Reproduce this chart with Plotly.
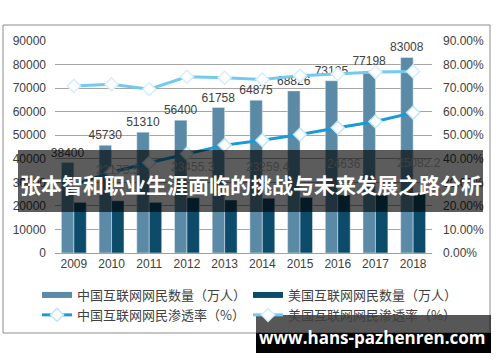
import plotly.graph_objects as go

years = [2009, 2010, 2011, 2012, 2013, 2014, 2015, 2016, 2017, 2018]
china_users = [38400, 45730, 51310, 56400, 61758, 64875, 68826, 73125, 77198, 83008]
us_users = [21500, 22175.5, 21500, 23455.3, 22500, 23259.4, 23600, 24636, 24600, 25082.2]
us_label_years = [2010, 2012, 2014, 2016, 2018]
china_rate = [0.289, 0.343, 0.383, 0.421, 0.458, 0.479, 0.503, 0.532, 0.558, 0.596]
us_rate = [0.709, 0.716, 0.695, 0.748, 0.744, 0.737, 0.753, 0.760, 0.768, 0.771]

left_ticks = list(range(0, 90001, 10000))
right_ticks = [i / 100 for i in range(0, 91, 10)]

title_text = "张本智和职业生涯面临的挑战与未来发展之路分析"
site_text = "www.hans-pazhenren.com"

c_cn_bar = "#5a8aa6"
c_us_bar = "#0d4b6b"
c_cn_line = "#1a9ad6"
c_us_line = "#74c9ee"
txt = "#404040"
font_num = "Liberation Sans, Arial, sans-serif"
font_cjk = "Noto Sans CJK SC, sans-serif"

W, H = 500, 362
L, R, T, B = 55, 68, 41, 109
pw, ph = W - L - R, H - T - B


def px(x):
    return (x - L) / pw


def py(y):
    return (H - B - y) / ph


fig = go.Figure()
fig.add_trace(go.Bar(x=years, y=china_users, marker_color=c_cn_bar, showlegend=False,
                     text=[str(v) for v in china_users], textposition="outside",
                     constraintext="none", cliponaxis=False,
                     textfont=dict(size=12, color=txt, family=font_num)))
fig.add_trace(go.Bar(x=years, y=us_users, marker_color=c_us_bar, showlegend=False))

# legend-only entries with wide swatches
fig.add_trace(go.Scatter(x=[None], y=[None], mode="lines", line=dict(color=c_cn_bar, width=6),
                         name="中国互联网网民数量（万人）"))
fig.add_trace(go.Scatter(x=[None], y=[None], mode="lines", line=dict(color=c_us_bar, width=6),
                         name="美国互联网网民数量（万人）"))

fig.add_trace(go.Scatter(x=years, y=china_rate, yaxis="y2", mode="lines+markers",
                         name="中国互联网网民渗透率（%）",
                         line=dict(color=c_cn_line, width=3),
                         marker=dict(symbol="diamond", size=10, color="white",
                                     line=dict(color="#c6e6f6", width=1.5))))
fig.add_trace(go.Scatter(x=years, y=us_rate, yaxis="y2", mode="lines+markers",
                         name="美国互联网网民渗透率（%）",
                         line=dict(color=c_us_line, width=3),
                         marker=dict(symbol="diamond", size=10, color="white",
                                     line=dict(color="#d6eef9", width=1.5))))

annotations = []
for yr, v in zip(years, us_users):
    if yr in us_label_years:
        annotations.append(dict(x=yr, y=v, xref="x", yref="y", text=str(v), showarrow=False,
                                xshift=6, yshift=31, yanchor="middle",
                                font=dict(size=12, color=txt, family=font_num)))

shapes = [
    dict(type="rect", xref="paper", yref="paper", x0=px(3), x1=px(490), y0=py(333), y1=py(25),
         line=dict(color="#8c8c8c", width=1), fillcolor="rgba(0,0,0,0)", layer="below"),
    dict(type="rect", xref="paper", yref="paper", x0=px(18), x1=px(483), y0=py(212), y1=py(150),
         line=dict(width=0), fillcolor="rgba(0,0,0,0.64)", layer="above"),
    dict(type="rect", xref="paper", yref="paper", x0=px(256), x1=px(491), y0=py(333), y1=py(315),
         line=dict(width=0), fillcolor="rgba(0,0,0,0.66)", layer="above"),
    dict(type="rect", xref="paper", yref="paper", x0=px(256), x1=px(491), y0=py(353), y1=py(333),
         line=dict(width=0), fillcolor="#000000", layer="above"),
]

annotations.append(dict(x=px(250.5), y=py(184), xref="paper", yref="paper", text="<b>" + title_text + "</b>",
                        showarrow=False, xanchor="center", yanchor="middle",
                        font=dict(size=21, color="white", family=font_cjk)))
annotations.append(dict(x=px(372), y=py(337), xref="paper", yref="paper", text="<b>" + site_text + "</b>",
                        showarrow=False, xanchor="center", yanchor="middle",
                        font=dict(size=17, color="white", family="Open Sans, DejaVu Sans, sans-serif")))

fig.update_layout(
    width=W, height=H,
    margin=dict(l=L, r=R, t=T, b=B, pad=0),
    paper_bgcolor="white", plot_bgcolor="white",
    barmode="group", bargap=0.34, bargroupgap=0,
    xaxis=dict(range=[2008.5, 2018.5], tickvals=years, ticktext=[str(y) for y in years],
               showgrid=False, showline=True, linecolor="#a0a0a0", linewidth=1, zeroline=False,
               ticks="", tickfont=dict(size=12, color=txt, family=font_num)),
    yaxis=dict(range=[0, 90000], tickvals=left_ticks, tickformat="d", showgrid=True,
               gridcolor="#a6a6a6", gridwidth=1,
               zeroline=False, showline=False, ticks="", ticklabelstandoff=8,
               tickfont=dict(size=12, color=txt, family=font_num)),
    yaxis2=dict(range=[0, 0.9], tickvals=right_ticks, tickformat=".2%", overlaying="y", side="right",
                showgrid=False, zeroline=False, showline=False, ticks="", ticklabelstandoff=10,
                tickfont=dict(size=12, color=txt, family=font_num)),
    legend=dict(orientation="h", x=px(37), y=py(280), xanchor="left", yanchor="top",
                entrywidth=166, entrywidthmode="pixels", tracegroupgap=0,
                font=dict(size=13, color=txt, family=font_cjk), bgcolor="rgba(0,0,0,0)"),
    shapes=shapes, annotations=annotations,
    showlegend=True,
)

fig.write_html("out.html", config={"displayModeBar": False},
               post_script="document.body.style.margin='0';document.body.style.padding='0';")
